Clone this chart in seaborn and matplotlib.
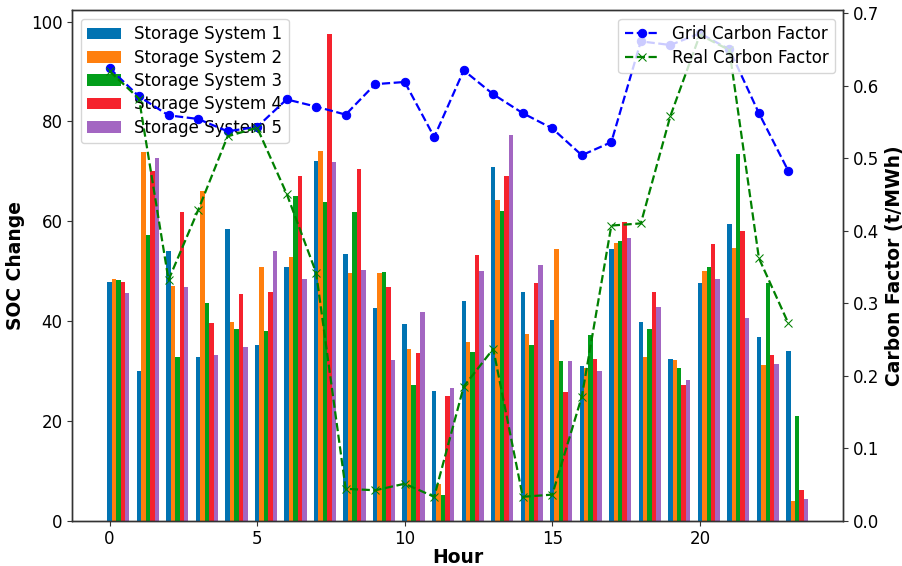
import numpy as np
import pandas as pd
import matplotlib
matplotlib.use("Agg")
import matplotlib.pyplot as plt
import seaborn as sns

hours = list(range(24))
systems = ["Storage System 1", "Storage System 2", "Storage System 3",
           "Storage System 4", "Storage System 5"]

soc_s1 = [47.9, 29.9, 54.0, 32.7, 58.4, 35.2, 50.9, 72.0, 53.4, 42.6, 39.5, 25.9,
          44.1, 70.9, 45.9, 40.2, 30.9, 54.4, 39.9, 32.4, 47.7, 59.5, 36.9, 33.9]
soc_s2 = [48.5, 73.9, 47.1, 66.0, 39.8, 50.8, 52.9, 74.0, 49.6, 49.7, 34.3, 7.3,
          35.9, 64.2, 37.5, 54.4, 30.5, 55.7, 32.7, 32.1, 50.0, 54.7, 31.1, 3.9]
soc_s3 = [48.3, 57.2, 32.7, 43.6, 38.4, 38.1, 65.1, 63.8, 61.8, 49.9, 27.1, 5.2,
          33.7, 62.0, 35.3, 31.9, 37.3, 56.1, 38.4, 30.5, 50.8, 73.4, 47.7, 20.9]
soc_s4 = [47.9, 70.1, 61.8, 39.7, 45.4, 45.9, 69.1, 97.4, 70.5, 46.9, 33.5, 24.9,
          53.2, 69.0, 47.7, 25.7, 32.3, 59.9, 45.8, 27.1, 55.4, 58.0, 33.1, 6.2]
soc_s5 = [45.6, 72.7, 46.9, 33.1, 34.7, 54.0, 48.4, 71.8, 50.3, 32.2, 41.9, 26.6,
          50.1, 77.2, 51.3, 32.0, 29.9, 56.7, 42.9, 28.2, 48.4, 40.6, 31.4, 4.3]

grid_cf = [0.624, 0.585, 0.559, 0.554, 0.537, 0.543, 0.581, 0.571, 0.560, 0.602,
           0.605, 0.529, 0.621, 0.588, 0.562, 0.541, 0.504, 0.522, 0.661, 0.656,
           0.672, 0.650, 0.562, 0.482]
real_cf = [0.620, 0.582, 0.332, 0.428, 0.530, 0.542, 0.451, 0.342, 0.044, 0.042,
           0.051, 0.033, 0.185, 0.237, 0.033, 0.036, 0.171, 0.407, 0.410, 0.558,
           0.670, 0.649, 0.362, 0.272]

colors = ["#0173b2", "#ff7f0e", "#029e1a", "#f5222d", "#a366c2"]

sns.set_style("ticks")
plt.rcParams.update({
    "font.family": ["DejaVu Sans"],
    "axes.edgecolor": "#333333",
    "axes.linewidth": 1.0,
    "xtick.major.pad": 3.5, "ytick.major.pad": 3.5,
    "xtick.major.size": 3.5, "ytick.major.size": 3.5,
    "xtick.color": "#333333", "ytick.color": "#333333",
    "xtick.labelcolor": "black", "ytick.labelcolor": "black",
    "text.color": "black", "axes.labelcolor": "black",
    "legend.framealpha": 0.8, "legend.edgecolor": "0.8", "legend.fancybox": True,
})

fig, ax = plt.subplots(figsize=(9.03, 5.66), dpi=100)

bar_w = 0.15
all_soc = [soc_s1, soc_s2, soc_s3, soc_s4, soc_s5]
x = np.array(hours, dtype=float)
for i, (name, vals) in enumerate(zip(systems, all_soc)):
    ax.bar(x + i * bar_w, vals, width=bar_w, color=colors[i], label=name,
           linewidth=0, edgecolor="none")

ax.set_xlabel("Hour", fontsize=13.5, fontweight="bold", labelpad=0)
ax.set_ylabel("SOC Change", fontsize=13.5, fontweight="bold")
ax.tick_params(axis="both", labelsize=12)
ax.set_xticks([0, 5, 10, 15, 20])
ax.legend(loc="upper left", fontsize=12, labelspacing=0.32)

ax2 = ax.twinx()
df = pd.DataFrame({"Hour": hours, "Grid": grid_cf, "Real": real_cf})
sns.lineplot(data=df, x="Hour", y="Grid", ax=ax2, color="blue", linestyle="--",
             marker="o", markersize=6, markeredgecolor="blue", linewidth=1.6,
             label="Grid Carbon Factor")
sns.lineplot(data=df, x="Hour", y="Real", ax=ax2, color="green", linestyle="--",
             marker="x", markersize=6, markeredgecolor="green", linewidth=1.6,
             label="Real Carbon Factor")
ax2.set_ylim(0, 0.704)
ax2.set_ylabel("Carbon Factor (t/MWh)", fontsize=13.5, fontweight="bold")
ax2.set_xlabel("Hour", fontsize=13.5, fontweight="bold", labelpad=0)
ax2.tick_params(axis="y", labelsize=12)
ax2.legend(loc="upper right", fontsize=12, labelspacing=0.32)

fig.subplots_adjust(left=0.080, right=0.934, top=0.982, bottom=0.080)
fig.savefig("out.png", dpi=100)
